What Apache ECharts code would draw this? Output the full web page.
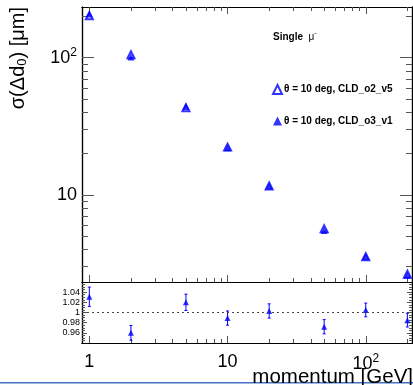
<!DOCTYPE html>
<html>
<head>
<meta charset="utf-8">
<script src="https://cdn.jsdelivr.net/npm/echarts@6/dist/echarts.min.js"></script>
<style>
  html, body { margin: 0; padding: 0; background: #fff; }
  #chart { width: 413px; height: 385px; }
</style>
</head>
<body>
<div id="chart"></div>
<script>
// momentum points and resolution values
const momenta = [1, 2, 5, 10, 20, 50, 100, 200];
const sigmaO2v5 = [202, 105, 43.1, 22.3, 11.6, 5.66, 3.54, 2.64];
const sigmaO3v1 = [208, 101, 44, 22.1, 11.6, 5.5, 3.56, 2.6];
const ratio = [1.031, 0.960, 1.020, 0.989, 1.003, 0.972, 1.005, 0.985];
const ratioErr = [0.019, 0.0145, 0.016, 0.014, 0.014, 0.014, 0.0135, 0.0135];

// tick positions
const xMajorTicks = [1, 10, 100];
const xMinorTicks = [2, 3, 4, 5, 6, 7, 8, 9, 20, 30, 40, 50, 60, 70, 80, 90, 200];
const yMajorTicks = [10, 100];
const yMinorTicks = [3, 4, 5, 6, 7, 8, 9, 20, 30, 40, 50, 60, 70, 80, 90, 200];
const ratioTicks = [0.96, 0.98, 1, 1.02, 1.04];
const ratioMinorTicks = [0.945, 0.95, 0.955, 0.965, 0.97, 0.975, 0.985, 0.99, 0.995,
  1.005, 1.01, 1.015, 1.025, 1.03, 1.035, 1.045, 1.05, 1.055];

const nameO2 = 'θ = 10 deg, CLD_o2_v5';
const nameO3 = 'θ = 10 deg, CLD_o3_v1';
const BLUE = '#0000ff';
const X_MIN = 0.885, X_MAX = 216;
const Y_MIN = 2.32, Y_MAX = 234;

const chart = echarts.init(document.getElementById('chart'), null, { renderer: 'canvas' });

const line = { show: true, onZero: false, lineStyle: { color: '#000', width: 1.2 } };
const tickStyle = { color: '#555', width: 1 };
const noLabel = { show: false };

function xAx(gridIndex, position, ticks, len, label) {
  return {
    type: 'log', logBase: 10, gridIndex, position, min: X_MIN, max: X_MAX,
    axisLine: line,
    axisTick: { show: true, inside: true, length: len, customValues: ticks, lineStyle: tickStyle },
    axisLabel: label || noLabel,
    splitLine: { show: false },
  };
}

function yLog(position, ticks, len, label) {
  return {
    type: 'log', logBase: 10, gridIndex: 0, position, min: Y_MIN, max: Y_MAX,
    axisLine: line,
    axisTick: { show: true, inside: true, length: len, customValues: ticks, lineStyle: tickStyle },
    axisLabel: label || noLabel,
    splitLine: { show: false },
  };
}

function yRatio(position, ticks, len, label) {
  return {
    type: 'value', gridIndex: 1, position, min: 0.94, max: 1.06, interval: 0.02,
    axisLine: line,
    axisTick: { show: true, inside: true, length: len, customValues: ticks, lineStyle: tickStyle },
    axisLabel: label || noLabel,
    splitLine: { show: false },
  };
}

const bigLabel = {
  show: true,
  color: '#000',
  fontFamily: 'Liberation Sans, Arial, sans-serif',
  fontSize: 18,
  formatter: v => (Math.abs(v - 100) < 1e-6 ? '10{sup|2}' : String(Math.round(v))),
  rich: { sup: { fontSize: 12, padding: [0, 0, 10, 0], fontFamily: 'Liberation Sans, Arial, sans-serif' } },
};

const option = {
  animation: false,
  backgroundColor: '#fff',
  grid: [
    { left: 82, right: 1, top: 7, height: 275 },
    { left: 82, right: 1, top: 282, height: 61 },
  ],
  xAxis: [
    xAx(0, 'bottom', xMajorTicks, 7),
    xAx(1, 'bottom', xMajorTicks, 7, Object.assign({}, bigLabel, { customValues: xMajorTicks, margin: 10 })),
    xAx(0, 'bottom', xMinorTicks, 4),
    xAx(0, 'top', xMajorTicks, 7),
    xAx(0, 'top', xMinorTicks, 4),
    xAx(1, 'bottom', xMinorTicks, 4),
  ],
  yAxis: [
    yLog('left', yMajorTicks, 12, Object.assign({}, bigLabel, { customValues: yMajorTicks, margin: 5 })),
    yRatio('left', ratioTicks, 5, {
      show: true, customValues: ratioTicks, margin: 2, color: '#000',
      fontFamily: 'Liberation Sans, Arial, sans-serif', fontSize: 9,
      formatter: v => String(parseFloat(v.toFixed(2))),
    }),
    yLog('left', yMinorTicks, 6),
    yLog('right', yMajorTicks, 12),
    yLog('right', yMinorTicks, 6),
    yRatio('left', ratioMinorTicks, 3),
    yRatio('right', ratioTicks, 5),
    yRatio('right', ratioMinorTicks, 3),
  ],
  legend: {
    orient: 'vertical',
    left: 272,
    top: 84,
    padding: 0,
    itemWidth: 9,
    itemHeight: 9,
    itemGap: 21,
    textStyle: { color: '#000', fontSize: 10, fontWeight: 'bold', fontFamily: 'Liberation Sans, Arial, sans-serif', padding: [0, 0, 0, -3] },
    data: [nameO2, nameO3],
  },
  graphic: [
    {
      type: 'line', z: 0,
      shape: { x1: 0, y1: 382.7, x2: 413, y2: 382.7 },
      style: { stroke: '#4472c4', lineWidth: 1.5 },
    },
    {
      type: 'text', z: 10, x: 413, y: 377,
      style: {
        text: 'momentum [GeV]', fill: '#000',
        font: '20.5px "Liberation Sans", Arial, sans-serif',
        textAlign: 'right', textVerticalAlign: 'middle',
      },
    },
    {
      type: 'text', z: 10, x: 18, y: 7, rotation: Math.PI / 2,
      style: {
        text: 'σ(Δd{sub|0}) [μm]', fill: '#000',
        font: '20px "Liberation Sans", Arial, sans-serif',
        textAlign: 'right', textVerticalAlign: 'middle',
        rich: { sub: { fontSize: 13, padding: [9, 0, 0, 0], fontFamily: 'Liberation Sans, Arial, sans-serif' } },
      },
    },
    {
      type: 'text', z: 10, x: 273, y: 37,
      style: {
        text: 'Single  {mu|μ}{sup|-}', fill: '#000',
        font: 'bold 10px "Liberation Sans", Arial, sans-serif',
        textAlign: 'left', textVerticalAlign: 'middle',
        rich: {
          mu: { fontSize: 10, fontWeight: 'normal', fontFamily: 'Liberation Sans, Arial, sans-serif' },
          sup: { fontSize: 7, padding: [0, 0, 7, 0], fontFamily: 'Liberation Sans, Arial, sans-serif' },
        },
      },
    },
  ],
  series: [
    {
      name: nameO2, type: 'scatter', xAxisIndex: 0, yAxisIndex: 0,
      symbol: 'emptyTriangle', symbolSize: 7, z: 3,
      itemStyle: { color: BLUE, borderColor: BLUE, borderWidth: 1 },
      data: momenta.map((m, i) => [m, sigmaO2v5[i]]),
    },
    {
      name: nameO3, type: 'scatter', xAxisIndex: 0, yAxisIndex: 0,
      symbol: 'triangle', symbolSize: 7, z: 4,
      itemStyle: { color: BLUE },
      data: momenta.map((m, i) => [m, sigmaO3v1[i]]),
    },
    {
      name: 'ratioErr', type: 'custom', xAxisIndex: 1, yAxisIndex: 1, z: 3,
      encode: { x: 0, y: 1 },
      data: momenta.map((m, i) => [m, ratio[i], ratioErr[i]]),
      renderItem: (params, api) => {
        const x = api.value(0), y = api.value(1), e = api.value(2);
        const hi = api.coord([x, y + e]);
        const lo = api.coord([x, y - e]);
        const st = { stroke: BLUE, lineWidth: 1 };
        return {
          type: 'group',
          children: [
            { type: 'line', shape: { x1: hi[0], y1: hi[1], x2: lo[0], y2: lo[1] }, style: st },
            { type: 'line', shape: { x1: hi[0] - 1.5, y1: hi[1], x2: hi[0] + 1.5, y2: hi[1] }, style: st },
            { type: 'line', shape: { x1: lo[0] - 1.5, y1: lo[1], x2: lo[0] + 1.5, y2: lo[1] }, style: st },
          ],
        };
      },
    },
    {
      name: 'ratio', type: 'scatter', xAxisIndex: 1, yAxisIndex: 1,
      symbol: 'triangle', symbolSize: 6, z: 4,
      itemStyle: { color: BLUE },
      data: momenta.map((m, i) => [m, ratio[i]]),
      markLine: {
        silent: true, symbol: 'none', label: { show: false },
        lineStyle: { color: '#444', type: [2, 3], width: 1.2 },
        data: [{ yAxis: 1 }],
      },
    },
  ],
};

chart.setOption(option);
</script>
</body>
</html>
